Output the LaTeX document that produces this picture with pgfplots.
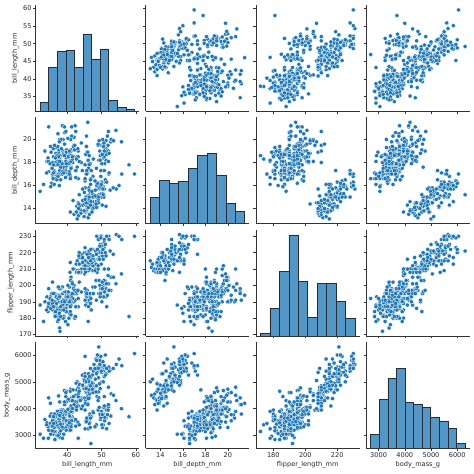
\documentclass[border=0pt]{standalone}
\usepackage{fontspec}
\setmainfont{DejaVu Sans}
\usepackage{pgfplots}
\usepackage{pgfplotstable}
\pgfplotsset{compat=1.18}
\definecolor{tabblue}{RGB}{31,119,180}
\definecolor{histfill}{RGB}{84,150,198}
\definecolor{histedge}{RGB}{35,45,58}
\pgfplotstableread{
bl bd fl bm
39.1 18.7 181 3750
39.5 17.4 186 3800
40.3 18.0 195 3250
36.7 19.3 193 3450
39.3 20.6 190 3650
38.9 17.8 181 3625
39.2 19.6 195 4675
34.1 18.1 193 3475
42.0 20.2 190 4250
37.8 17.1 186 3300
37.8 17.3 180 3700
41.1 17.6 182 3200
38.6 21.2 191 3800
34.6 21.1 198 4400
36.6 17.8 185 3700
38.7 19.0 195 3450
42.5 20.7 197 4500
34.4 18.4 184 3325
46.0 21.5 194 4200
37.8 18.3 174 3400
37.7 18.7 180 3600
35.9 19.2 189 3800
38.2 18.1 185 3950
38.8 17.2 180 3800
35.3 18.9 187 3800
40.6 18.6 183 3550
40.5 17.9 187 3200
37.9 18.6 172 3150
40.5 18.9 180 3950
39.5 16.7 178 3250
37.2 18.1 178 3900
39.5 17.8 188 3300
40.9 18.9 184 3900
36.4 17.0 195 3325
39.2 21.1 196 4150
38.8 20.0 190 3950
42.2 18.5 180 3550
37.6 19.3 181 3300
39.8 19.1 184 4650
36.5 18.0 182 3150
40.8 18.4 195 3900
36.0 18.5 186 3100
44.1 19.7 196 4400
37.0 16.9 185 3000
39.6 18.8 190 4600
41.1 19.0 182 3425
37.5 18.9 179 2975
36.0 17.9 190 3450
42.3 21.2 191 4150
39.6 17.7 186 3500
40.1 18.9 188 4300
35.0 17.9 190 3450
42.0 19.5 200 4050
34.5 18.1 187 2900
41.4 18.6 191 3700
39.0 17.5 186 3550
40.6 18.8 193 3800
36.5 16.6 181 2850
37.6 19.1 194 3750
35.7 16.9 185 3150
41.3 21.1 195 4400
37.6 17.0 185 3600
41.1 18.2 192 4050
36.4 17.1 184 2850
41.6 18.0 192 3950
35.5 16.2 195 3350
41.1 19.1 188 4100
35.9 16.6 190 3050
41.8 19.4 198 4450
33.5 19.0 190 3600
39.7 18.4 190 3900
39.6 17.2 196 3550
45.8 18.9 197 4150
35.5 17.5 190 3700
42.8 18.5 195 4250
40.9 16.8 191 3700
37.2 19.4 184 3900
36.2 16.1 187 3550
42.1 19.1 195 4000
34.6 17.2 189 3200
42.9 17.6 196 4700
36.7 18.8 187 3800
35.1 19.4 193 4200
37.3 17.8 191 3350
41.3 20.3 194 3550
36.3 19.5 190 3800
36.9 18.6 189 3500
38.3 19.2 189 3950
38.9 18.8 190 3600
35.7 18.0 202 3550
41.1 18.1 205 4300
34.0 17.1 185 3400
39.6 18.1 186 4450
36.2 17.3 187 3300
40.8 18.9 208 4300
38.1 18.6 190 3700
40.3 18.5 196 4350
33.1 16.1 178 2900
43.2 18.5 192 4100
35.0 17.9 192 3725
41.0 20.0 203 4725
37.7 16.0 183 3075
37.8 20.0 190 4250
37.9 18.6 193 2925
39.7 18.9 184 3550
38.6 17.2 199 3750
38.2 20.0 190 3900
38.1 17.0 181 3175
43.2 19.0 197 4775
38.1 16.5 198 3825
45.6 20.3 191 4600
39.7 17.7 193 3200
42.2 19.5 197 4275
39.6 20.7 191 3900
42.7 18.3 196 4075
38.6 17.0 188 2900
37.3 20.5 199 3775
35.7 17.0 189 3350
41.1 18.6 189 3325
36.2 17.2 187 3150
37.7 19.8 198 3500
40.2 17.0 176 3450
41.4 18.5 202 3875
35.2 15.9 186 3050
40.6 19.0 199 4000
38.8 17.6 191 3275
41.5 18.3 195 4300
39.0 17.1 191 3050
44.1 18.0 210 4000
38.5 17.9 190 3325
43.1 19.2 197 3500
36.8 18.5 193 3500
37.5 18.5 199 4475
38.1 17.6 187 3425
41.1 17.5 190 3900
35.6 17.5 191 3175
40.2 20.1 200 3975
37.0 16.5 185 3400
39.7 17.9 193 4250
40.2 17.1 193 3400
40.6 17.2 187 3475
32.1 15.5 188 3050
40.7 17.0 190 3725
37.3 16.8 192 3000
39.0 18.7 185 3650
39.2 18.6 190 4250
36.6 18.4 184 3475
36.0 17.8 195 3450
37.8 18.1 193 3750
36.0 17.1 187 3700
41.5 18.5 201 4000
46.1 13.2 211 4500
50.0 16.3 230 5700
48.7 14.1 210 4450
50.0 15.2 218 5700
47.6 14.5 215 5400
46.5 13.5 210 4550
45.4 14.6 211 4800
46.7 15.3 219 5200
43.3 13.4 209 4400
46.8 15.4 215 5150
40.9 13.7 214 4650
49.0 16.1 216 5550
45.5 13.7 214 4650
48.4 14.6 213 5850
45.8 14.6 210 4200
49.3 15.7 217 5850
42.0 13.5 210 4150
49.2 15.2 221 6300
46.2 14.5 209 4800
48.7 15.1 222 5350
50.2 14.3 218 5700
45.1 14.5 215 5000
46.5 14.5 213 4400
46.3 15.8 215 5050
42.9 13.1 215 5000
46.1 15.1 215 5100
44.5 14.3 216 4100
47.8 15.0 215 5650
48.2 14.3 210 4600
50.0 15.3 220 5550
47.3 15.3 222 5250
42.8 14.2 209 4700
45.1 14.5 207 5050
59.6 17.0 230 6050
49.1 14.8 220 5150
48.4 16.3 220 5400
42.6 13.7 213 4950
44.4 17.3 219 5250
44.0 13.6 208 4350
48.7 15.7 208 5350
42.7 13.7 208 3950
49.6 16.0 225 5700
45.3 13.7 210 4300
49.6 15.0 216 4750
50.5 15.9 222 5550
43.6 13.9 217 4900
45.5 13.9 210 4200
50.5 15.9 225 5400
44.9 13.3 213 5100
45.2 15.8 215 5300
46.6 14.2 210 4850
48.5 14.1 220 5300
45.1 14.4 210 4400
50.1 15.0 225 5000
46.5 14.4 217 4900
45.0 15.4 220 5050
43.8 13.9 208 4300
45.5 15.0 220 5000
43.2 14.5 208 4450
50.4 15.3 224 5550
45.3 13.8 208 4200
46.2 14.9 221 5300
45.7 13.9 214 4400
54.3 15.7 231 5650
45.8 14.2 219 4700
49.8 16.8 230 5700
46.2 14.4 214 4650
49.5 16.2 229 5800
43.5 14.2 220 4700
50.7 15.0 223 5550
47.7 15.0 216 4750
46.4 15.6 221 5000
48.2 15.6 221 5100
46.5 14.8 217 5200
46.4 15.0 216 4700
48.6 16.0 230 5800
47.5 14.2 209 4600
51.1 16.3 220 6000
45.2 13.8 215 4750
45.2 16.4 223 5950
49.1 14.5 212 4625
52.5 15.6 221 5450
47.4 14.6 212 4725
50.0 15.9 224 5350
44.9 13.8 212 4750
50.8 17.3 228 5600
43.4 14.4 218 4600
51.3 14.2 218 5300
47.5 14.0 212 4875
52.1 17.0 230 5550
47.5 15.0 218 4950
52.2 17.1 228 5400
45.5 14.5 212 4750
49.5 16.1 224 5650
44.5 14.7 214 4850
50.8 15.7 226 5200
49.4 15.8 216 4925
46.9 14.6 222 4875
48.4 14.4 203 4625
51.1 16.5 225 5250
48.5 15.0 219 4850
55.9 17.0 228 5600
47.2 15.5 215 4975
49.1 15.0 228 5500
47.3 13.8 216 4725
46.8 16.1 215 5500
41.7 14.7 210 4700
53.4 15.8 219 5500
43.3 14.0 208 4575
48.1 15.1 209 5500
50.5 15.2 216 5000
49.8 15.9 229 5950
43.5 15.2 213 4650
51.5 16.3 230 5500
46.2 14.1 217 4375
55.1 16.0 230 5850
44.5 15.7 217 4875
48.8 16.2 222 6000
47.2 13.7 214 4925
46.8 14.3 215 4850
50.4 15.7 222 5750
45.2 14.8 212 5200
49.9 16.1 213 5400
46.5 17.9 192 3500
50.0 19.5 196 3900
51.3 19.2 193 3650
45.4 18.7 188 3525
52.7 19.8 197 3725
45.2 17.8 198 3950
46.1 18.2 178 3250
51.3 18.2 197 3750
46.0 18.9 195 4150
51.3 19.9 198 3700
46.6 17.8 193 3800
51.7 20.3 194 3775
47.0 17.3 185 3700
52.0 18.1 201 4050
45.9 17.1 190 3575
50.5 19.6 201 4050
50.3 20.0 197 3300
58.0 17.8 181 3700
46.4 18.6 190 3450
49.2 18.2 195 4400
42.4 17.3 181 3600
48.5 17.5 191 3400
43.2 16.6 187 2900
50.6 19.4 193 3800
46.7 17.9 195 3300
52.0 19.0 197 4150
50.5 18.4 200 3400
49.5 19.0 200 3800
46.4 17.8 191 3700
52.8 20.0 205 4550
40.9 16.6 187 3200
54.2 20.8 201 4300
42.5 16.7 187 3350
51.0 18.8 203 4100
49.7 18.6 195 3600
47.5 16.8 199 3900
47.6 18.3 195 3850
52.0 20.7 210 4800
46.9 16.6 192 2700
53.5 19.9 205 4500
49.0 19.5 210 3950
46.2 17.5 187 3650
50.9 19.1 196 3550
45.5 17.0 196 3500
50.9 17.9 196 3675
50.8 18.5 201 4450
50.1 17.9 190 3400
49.0 19.6 212 4300
51.5 18.7 187 3250
49.8 17.3 198 3675
48.1 16.4 199 3325
51.4 19.0 201 3950
45.7 17.3 193 3600
50.7 19.7 203 4050
42.5 17.3 187 3350
52.2 18.8 197 3450
45.2 16.6 191 3250
49.3 19.9 203 4050
50.2 18.8 202 3800
45.6 19.4 194 3525
51.9 19.5 206 3950
46.8 16.5 189 3650
45.7 17.0 195 3650
55.8 19.8 207 4000
43.5 18.1 202 3400
49.6 18.2 193 3775
50.8 19.0 210 4100
50.2 18.7 198 3775
}\data
\pgfplotsset{
  panel/.style={scale only axis, width=103.8pt, height=106.3pt, anchor=south west,
    axis x line*=bottom, axis y line*=left,
    x axis line style={-}, y axis line style={-},
    axis line style={line width=0.55pt, draw=black!80},
    tick align=outside, major tick length=2.4pt,
    every tick/.style={line width=0.55pt, black!80},
    tick label style={font=\fontsize{6.6}{7}\selectfont, text=black!85},
    label style={font=\fontsize{6.6}{7}\selectfont, text=black!85},
    xticklabel style={inner sep=1.2pt},
    yticklabel style={inner sep=1.2pt},
    scaled ticks=false, /pgf/number format/1000 sep={},
    /pgf/number format/assume math mode=true,
    clip=false},
  hist/.style={scale only axis, width=103.8pt, height=106.3pt, anchor=south west,
    hide axis, ymin=0, ymax=85.05, clip=false},
  scat/.style={only marks, mark=*, mark size=2.1pt,
    mark options={fill=tabblue, draw=white, line width=0.3pt}},
  bars/.style={ybar interval, fill=histfill, draw=histedge, line width=0.6pt},
  cBL/.style={xmin=30.725, xmax=60.975, xtick={40,50,60}},
  cBD/.style={xmin=12.68, xmax=21.92, xtick={14,16,18,20}},
  cFL/.style={xmin=169.05, xmax=233.95, xtick={180,200,220}},
  cBM/.style={xmin=2520, xmax=6480, xtick={3000,4000,5000,6000}},
  rBL/.style={ymin=30.725, ymax=60.975, ytick={35,40,45,50,55,60}},
  rBD/.style={ymin=12.68, ymax=21.92, ytick={14,16,18,20}},
  rFL/.style={ymin=169.05, ymax=233.95, ytick={170,180,190,200,210,220,230}},
  rBM/.style={ymin=2520, ymax=6480, ytick={3000,4000,5000,6000}},
  nox/.style={xticklabels={}},
  noy/.style={yticklabels={}},
}
\begin{document}
\begin{tikzpicture}[x=1pt,y=1pt]
\useasboundingbox (0,0) rectangle (474,474);
% ---------- row 1: bill_length ----------
\begin{axis}[hist, cBL, at={(35.4pt,362.6pt)}]
\addplot[bars] coordinates {(32.1,7) (34.6,35) (37.1,48) (39.6,49) (42.1,35) (44.6,62) (47.1,42) (49.6,50) (52.1,9) (54.6,3) (57.1,2) (59.6,2)};
\end{axis}
\begin{axis}[panel, cBL, rBL, nox, at={(35.4pt,362.6pt)},
  yticklabels={35,40,45,50,55,60}, ylabel={bill\_length\_mm}]
\end{axis}
\begin{axis}[panel, cBD, rBL, nox, noy, at={(145.6pt,362.6pt)}]
\addplot[scat] table[x=bd, y=bl] {\data};
\end{axis}
\begin{axis}[panel, cFL, rBL, nox, noy, at={(255.8pt,362.6pt)}]
\addplot[scat] table[x=fl, y=bl] {\data};
\end{axis}
\begin{axis}[panel, cBM, rBL, nox, noy, at={(366.0pt,362.6pt)}]
\addplot[scat] table[x=bm, y=bl] {\data};
\end{axis}
% ---------- row 2: bill_depth ----------
\begin{axis}[panel, cBL, rBD, nox, at={(35.4pt,250.25pt)},
  yticklabels={14,16,18,20}, ylabel={bill\_depth\_mm}]
\addplot[scat] table[x=bl, y=bd] {\data};
\end{axis}
\begin{axis}[hist, cBD, at={(145.6pt,250.25pt)}]
\addplot[bars] coordinates {(13.1,21) (13.94,35) (14.78,32) (15.62,34) (16.46,44) (17.3,55) (18.14,56) (18.98,39) (19.82,16) (20.66,10) (21.5,10)};
\end{axis}
\begin{axis}[panel, cBD, rBD, nox, noy, at={(145.6pt,250.25pt)}]
\end{axis}
\begin{axis}[panel, cFL, rBD, nox, noy, at={(255.8pt,250.25pt)}]
\addplot[scat] table[x=fl, y=bd] {\data};
\end{axis}
\begin{axis}[panel, cBM, rBD, nox, noy, at={(366.0pt,250.25pt)}]
\addplot[scat] table[x=bm, y=bd] {\data};
\end{axis}
% ---------- row 3: flipper_length ----------
\begin{axis}[panel, cBL, rFL, nox, at={(35.4pt,137.9pt)},
  yticklabels={170,180,190,200,210,220,230}, ylabel={flipper\_length\_mm}]
\addplot[scat] table[x=bl, y=fl] {\data};
\end{axis}
\begin{axis}[panel, cBD, rFL, nox, noy, at={(145.6pt,137.9pt)}]
\addplot[scat] table[x=bd, y=fl] {\data};
\end{axis}
\begin{axis}[hist, cFL, at={(255.8pt,137.9pt)}]
\addplot[bars] coordinates {(172,2) (177.9,22) (183.8,52) (189.7,81) (195.6,44) (201.5,15) (207.4,42) (213.3,42) (219.2,28) (225.1,14) (231,14)};
\end{axis}
\begin{axis}[panel, cFL, rFL, nox, noy, at={(255.8pt,137.9pt)}]
\end{axis}
\begin{axis}[panel, cBM, rFL, nox, noy, at={(366.0pt,137.9pt)}]
\addplot[scat] table[x=bm, y=fl] {\data};
\end{axis}
% ---------- row 4: body_mass ----------
\begin{axis}[panel, cBL, rBM, at={(35.4pt,25.6pt)},
  xticklabels={40,50,60}, xlabel={bill\_length\_mm},
  yticklabels={3000,4000,5000,6000}, ylabel={body\_mass\_g}]
\addplot[scat] table[x=bl, y=bm] {\data};
\end{axis}
\begin{axis}[panel, cBD, rBM, noy, at={(145.6pt,25.6pt)},
  xticklabels={14,16,18,20}, xlabel={bill\_depth\_mm}]
\addplot[scat] table[x=bd, y=bm] {\data};
\end{axis}
\begin{axis}[panel, cFL, rBM, noy, at={(255.8pt,25.6pt)},
  xticklabels={180,200,220}, xlabel={flipper\_length\_mm}]
\addplot[scat] table[x=fl, y=bm] {\data};
\end{axis}
\begin{axis}[hist, cBM, at={(366.0pt,25.6pt)}]
\addplot[bars] coordinates {(2700,11) (3027.27,39) (3354.55,56) (3681.82,64) (4009.09,37) (4336.36,35) (4663.64,33) (4990.91,25) (5318.18,22) (5645.45,16) (5972.73,4) (6300,4)};
\end{axis}
\begin{axis}[panel, cBM, rBM, noy, at={(366.0pt,25.6pt)},
  xticklabels={3000,4000,5000,6000}, xlabel={body\_mass\_g}]
\end{axis}
\end{tikzpicture}
\end{document}
